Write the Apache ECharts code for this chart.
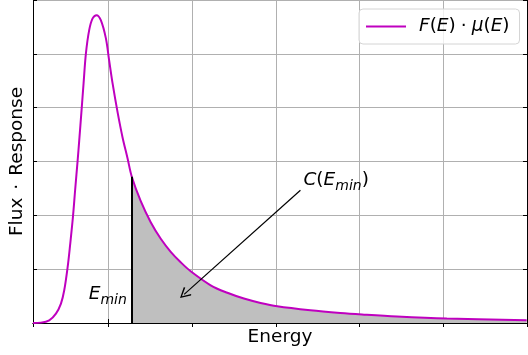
<!DOCTYPE html>
<html>
<head>
<meta charset="utf-8">
<script src="https://cdn.jsdelivr.net/npm/echarts@6/dist/echarts.min.js"></script>
<style>
  html, body { margin: 0; padding: 0; background: #fff; }
  #chart { width: 528px; height: 355px; }
</style>
</head>
<body>
<div id="chart"></div>
<script>
// values
const energy = [0.10, 0.195, 0.294, 0.374, 0.434, 0.473, 0.514, 0.545, 0.577, 0.604, 0.633,
  0.652, 0.680, 0.704, 0.732, 0.771, 0.812, 0.859, 0.910, 0.970, 1.009, 1.050, 1.110, 1.169,
  1.229, 1.28, 1.387, 1.506, 1.626, 1.745, 1.864, 1.983, 2.222, 2.421, 2.619, 2.818, 3.017,
  3.413, 3.771, 4.030, 4.447, 5.043, 5.996]
const response = [0.00, 0.007, 0.050, 0.175, 0.361, 0.608, 1.041, 1.476, 1.970, 2.485, 3.015,
  3.387, 3.954, 4.450, 5.007, 5.440, 5.658, 5.719, 5.626, 5.292, 4.883, 4.455, 3.916, 3.452,
  3.061, 2.717, 2.262, 1.872, 1.565, 1.323, 1.128, 0.961, 0.701, 0.561, 0.454, 0.372, 0.310,
  0.236, 0.186, 0.158, 0.120, 0.082, 0.050]
const eMin = 1.28
const arrowFrom = [3.294, 2.467]
const arrowTo = [1.905, 0.532]
const labelC = [3.33, 2.62]
const labelEmin = [1.22, 0.50]

const curve = energy.map((e, i) => [e, response[i]])
const tail = curve.filter(p => p[0] >= eMin)
const yAtMin = tail[0][1]

const font = 'DejaVu Sans'
const fs = 18.5
const mathRich = {
  i: { fontFamily: font, fontStyle: 'italic', fontSize: fs, color: '#000', lineHeight: 22, verticalAlign: 'top' },
  n: { fontFamily: font, fontSize: fs, color: '#000', lineHeight: 22, verticalAlign: 'top' },
  s: { fontFamily: font, fontStyle: 'italic', fontSize: 14, color: '#000', lineHeight: 14, verticalAlign: 'bottom' }
}

const chart = echarts.init(document.getElementById('chart'))
const option = {
  animation: false,
  grid: { left: 32, right: 1, top: 0, bottom: 32 },
  legend: {
    data: ['F(E)·μ(E)'],
    left: 359,
    top: 9,
    padding: [8, 10, 8, 7],
    icon: 'rect',
    itemWidth: 40,
    itemHeight: 2,
    backgroundColor: 'rgba(255,255,255,0.8)',
    borderColor: '#d4d4d4',
    borderWidth: 1,
    borderRadius: 4,
    formatter: () => '{i|F}{n|(}{i|E}{n|)}{d|·}{i|μ}{n|(}{i|E}{n|)}',
    textStyle: {
      padding: [0, 0, 0, 8],
      rich: {
        i: { fontFamily: font, fontStyle: 'italic', fontSize: fs, color: '#000', lineHeight: 22 },
        n: { fontFamily: font, fontSize: fs, color: '#000', lineHeight: 22 },
        d: { fontFamily: font, fontSize: fs, color: '#000', lineHeight: 22, padding: [0, 5, 0, 5] }
      }
    }
  },
  xAxis: [
    {
      type: 'value',
      min: 0.1,
      max: 6,
      splitNumber: 5,
      name: 'Energy',
      nameLocation: 'middle',
      nameGap: 5,
      nameTextStyle: { fontFamily: font, fontSize: fs, color: '#000', verticalAlign: 'top' },
      axisLine: { lineStyle: { color: '#000', width: 1 } },
      axisTick: { inside: true, length: 4, lineStyle: { color: '#000' } },
      axisLabel: { show: false },
      splitLine: { show: true, lineStyle: { color: '#b0b0b0', width: 1 } }
    },
    {
      type: 'value',
      position: 'top',
      min: 0.1,
      max: 6,
      splitNumber: 5,
      axisLine: { show: true, lineStyle: { color: '#000', width: 1 } },
      axisTick: { show: true, inside: true, length: 4, lineStyle: { color: '#000' } },
      axisLabel: { show: false },
      splitLine: { show: false }
    }
  ],
  yAxis: [
    {
      type: 'value',
      min: 0,
      max: 6,
      interval: 1,
      name: 'Flux{d|·}Response',
      nameLocation: 'middle',
      nameGap: 6,
      nameRotate: 90,
      nameTextStyle: {
        fontFamily: font, fontSize: fs, color: '#000',
        rich: { d: { fontFamily: font, fontSize: fs, color: '#000', padding: [0, 8, 0, 8] } }
      },
      axisLine: { show: true, lineStyle: { color: '#000', width: 1 } },
      axisTick: { show: true, inside: true, length: 4, lineStyle: { color: '#000' } },
      axisLabel: { show: false },
      splitLine: { show: true, lineStyle: { color: '#b0b0b0', width: 1 } }
    },
    {
      type: 'value',
      position: 'right',
      min: 0,
      max: 6,
      interval: 1,
      axisLine: { show: true, lineStyle: { color: '#000', width: 1 } },
      axisTick: { show: true, inside: true, length: 4, lineStyle: { color: '#000' } },
      axisLabel: { show: false },
      splitLine: { show: false }
    }
  ],
  series: [
    {
      name: 'fill',
      type: 'line',
      data: tail,
      smooth: 0.35,
      symbol: 'none',
      z: 1,
      lineStyle: { width: 0 },
      areaStyle: { color: '#bfbfbf', opacity: 1 },
      markLine: {
        silent: true,
        animation: false,
        symbol: ['none', 'none'],
        label: { show: false },
        lineStyle: { color: '#000', width: 2, type: 'solid' },
        data: [[{ coord: [eMin, 0] }, { coord: [eMin, yAtMin] }]]
      }
    },
    {
      name: 'F(E)·μ(E)',
      type: 'line',
      data: curve,
      smooth: 0.35,
      symbol: 'none',
      z: 3,
      color: '#bf00bf',
      lineStyle: { color: '#bf00bf', width: 2 },
      markLine: {
        silent: true,
        animation: false,
        symbol: ['none', 'path://M5,0 L10,9 L9,10 L5,2.4 L1,10 L0,9 Z'],
        symbolSize: [11, 11],
        label: { show: false },
        lineStyle: { color: '#000', width: 1.2, type: 'solid' },
        data: [[{ coord: arrowFrom }, { coord: arrowTo }]]
      },
      markPoint: {
        silent: true,
        symbol: 'circle',
        symbolSize: 0,
        data: [
          {
            coord: labelC,
            label: {
              show: true,
              position: 'inside',
              align: 'left',
              verticalAlign: 'middle',
              formatter: () => '{i|C}{n|(}{i|E}{s|min}{n|)}',
              rich: mathRich
            }
          },
          {
            coord: labelEmin,
            label: {
              show: true,
              position: 'inside',
              align: 'right',
              verticalAlign: 'middle',
              formatter: () => '{i|E}{s|min}',
              rich: mathRich
            }
          }
        ]
      }
    }
  ]
}
chart.setOption(option)
</script>
</body>
</html>
